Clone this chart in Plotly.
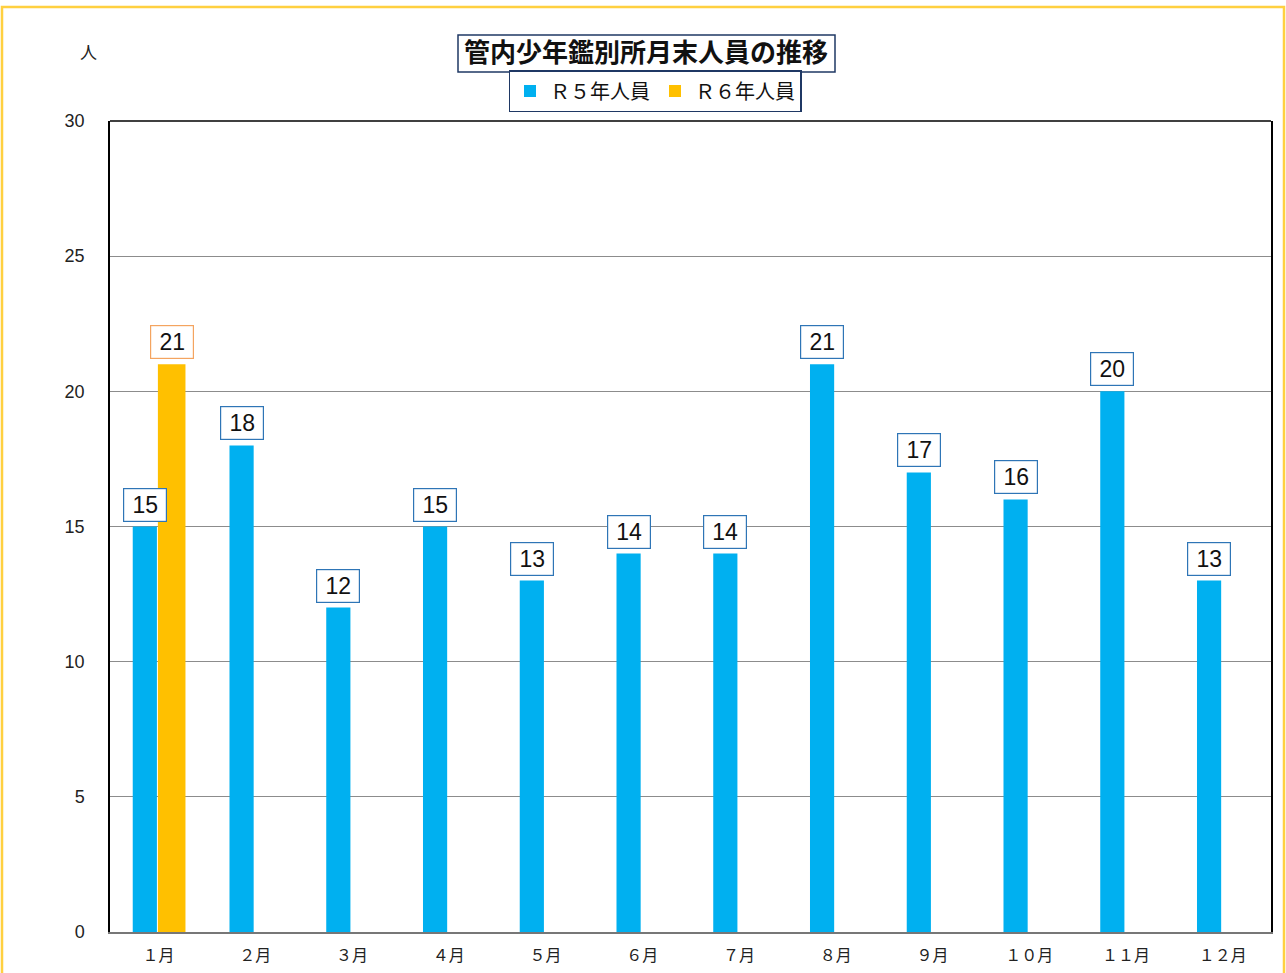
import plotly.graph_objects as go

months = ["１月", "２月", "３月", "４月", "５月", "６月", "７月", "８月", "９月", "１０月", "１１月", "１２月"]
r5_values = [15, 18, 12, 15, 13, 14, 14, 21, 17, 16, 20, 13]
r6_values = [21, None, None, None, None, None, None, None, None, None, None, None]
series_names = ["Ｒ５年人員", "Ｒ６年人員"]
title_text = "管内少年鑑別所月末人員の推移"
y_ticks = [0, 5, 10, 15, 20, 25, 30]

FONT = "Noto Sans CJK JP"
BLUE = "#00B0F0"
ORANGE = "#FFC000"
PW = 1161  # plot width px
PH = 811   # plot height px

x_idx = list(range(len(months)))

fig = go.Figure()
fig.add_trace(go.Bar(x=x_idx, y=r5_values, name=series_names[0], marker_color=BLUE,
                     width=0.25, offset=-0.265, marker_line_width=0))
fig.add_trace(go.Bar(x=x_idx, y=r6_values, name=series_names[1], marker_color=ORANGE,
                     width=0.285, offset=-0.005, marker_line_width=0))

annotations = []
for vals, dx, bc in ((r5_values, -0.14, "#2E75B6"), (r6_values, 0.14, "#F4A460")):
    for i, v in enumerate(vals):
        if v is None:
            continue
        annotations.append(dict(x=i + dx, y=v, xref="x", yref="y", text=str(v), showarrow=False,
                                yanchor="bottom", yshift=5,
                                font=dict(family="Liberation Sans", size=23, color="#111"),
                                bgcolor="white", bordercolor=bc, borderwidth=1.2, borderpad=2,
                                width=38, height=28))

annotations.append(dict(x=-22 / PW, y=1 + 69 / PH, xref="paper", yref="paper", text="人",
                        showarrow=False, xanchor="center", yanchor="middle",
                        font=dict(family=FONT, size=17, color="#222")))

fig.update_layout(
    width=1286, height=973,
    margin=dict(l=110, r=15, t=121, b=41, autoexpand=False),
    paper_bgcolor="white", plot_bgcolor="white",
    barmode="overlay",
    showlegend=True,
    legend=dict(orientation="h", x=(655 - 110) / PW, xanchor="center", y=1 + 30 / PH, yanchor="middle",
                bordercolor="#1F3864", borderwidth=1.5, bgcolor="white",
                font=dict(family=FONT, size=20, color="#111"),
                itemwidth=30, traceorder="normal"),
    title=dict(text="<b>" + title_text + "</b>", x=(646 - 110) / PW, xanchor="center", xref="paper",
               y=1 - 53 / 973, yanchor="middle", yref="container",
               font=dict(family=FONT, size=26, color="#111")),
    xaxis=dict(tickmode="array", tickvals=x_idx, ticktext=months, range=[-0.5, 11.5],
               showline=True, linecolor="#777", linewidth=2, showgrid=False, ticks="",
               ticklabelstandoff=8, automargin=False,
               tickfont=dict(family=FONT, size=16, color="#222")),
    yaxis=dict(range=[0, 30], tickvals=y_ticks, showline=True, linecolor="black", linewidth=1.5,
               mirror=True, showgrid=True, gridcolor="#8c8c8c", gridwidth=1, ticks="",
               zeroline=False, ticklabelstandoff=20, automargin=False,
               tickfont=dict(family="Liberation Sans", size=18, color="#222")),
    font=dict(family=FONT),
    annotations=annotations,
)

# title box
fig.add_shape(type="rect", xref="paper", yref="paper",
              x0=(458 - 110) / PW, x1=(835 - 110) / PW,
              y0=1 + (121 - 72) / PH, y1=1 + (121 - 35) / PH,
              line=dict(color="#1F3864", width=1.5), fillcolor="rgba(0,0,0,0)", layer="below")
# top frame line
fig.add_shape(type="line", xref="paper", yref="paper", x0=0, x1=1, y0=1, y1=1,
              line=dict(color="black", width=1.5))
# outer yellow border
fig.add_shape(type="rect", xref="paper", yref="paper",
              x0=-108 / PW, x1=1 + 13 / PW,
              y0=-45 / PH, y1=1 + (121 - 7) / PH,
              line=dict(color="#FFD040", width=2.5), fillcolor="rgba(0,0,0,0)")

fig.write_html("out.html", config={"displayModeBar": False},
               post_script="document.body.style.margin='0';")
